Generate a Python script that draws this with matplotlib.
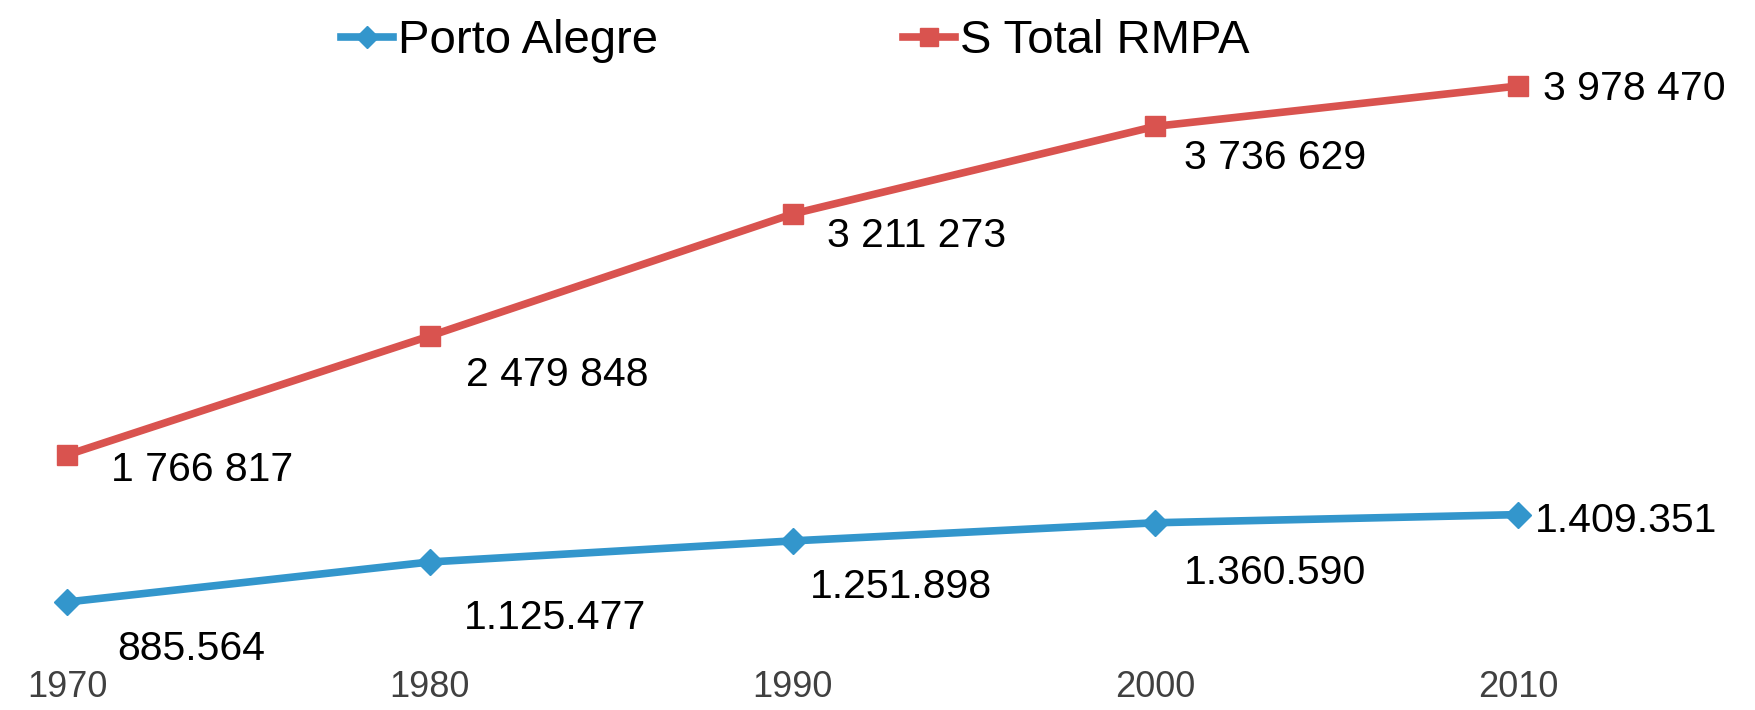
import matplotlib
matplotlib.use("Agg")
import matplotlib.pyplot as plt

anos = ["1970", "1980", "1990", "2000", "2010"]
porto_alegre = [885564, 1125477, 1251898, 1360590, 1409351]
total_rmpa = [1766817, 2479848, 3211273, 3736629, 3978470]
rotulos_poa = ["885.564", "1.125.477", "1.251.898", "1.360.590", "1.409.351"]
rotulos_rmpa = ["1 766 817", "2 479 848", "3 211 273", "3 736 629", "3 978 470"]

# label offsets in pixels (x right, y down)
desl_poa = [(50, 47), (34, 56), (17, 46), (29, 50), (17, 6)]
desl_rmpa = [(44, 15), (36, 39), (34, 22), (29, 32), (25, 3)]

azul = "#3396cc"
vermelho = "#d9534f"

plt.rcParams['font.family'] = ['Liberation Sans', 'DejaVu Sans']

fig = plt.figure(figsize=(17.56, 7.10), dpi=100)
ax = fig.add_axes([0.0382, 0.0775, 0.8263, 0.838])

x = list(range(len(anos)))
ax.plot(x, porto_alegre, color=azul, lw=5.5, marker='D', ms=13,
        label="Porto Alegre", clip_on=False, zorder=3)
ax.plot(x, total_rmpa, color=vermelho, lw=5.5, marker='s', ms=15,
        label="S Total RMPA", clip_on=False, zorder=3)

for xi, v, t, (dx, dy) in zip(x, porto_alegre, rotulos_poa, desl_poa):
    ax.annotate(t, (xi, v), xytext=(dx, -dy), textcoords='offset pixels',
                ha='left', va='center', fontsize=29.5, color='black',
                annotation_clip=False)
for xi, v, t, (dx, dy) in zip(x, total_rmpa, rotulos_rmpa, desl_rmpa):
    ax.annotate(t, (xi, v), xytext=(dx, -dy), textcoords='offset pixels',
                ha='left', va='center', fontsize=29.5, color='black',
                annotation_clip=False)

ax.set_xlim(0, 4)
ax.set_ylim(568064, 4134308)
ax.set_xticks(x)
ax.set_xticklabels(anos, fontsize=26, color='#404040')
ax.tick_params(axis='x', length=0, pad=11)
ax.set_yticks([])
for s in ax.spines.values():
    s.set_visible(False)

fig.legend(loc='center', bbox_to_anchor=(0.453, 0.942), ncol=2, frameon=False,
           fontsize=34, handlelength=1.1, handletextpad=0.1, columnspacing=5.2,
           markerscale=0.9)

fig.savefig("out.png", dpi=100)
